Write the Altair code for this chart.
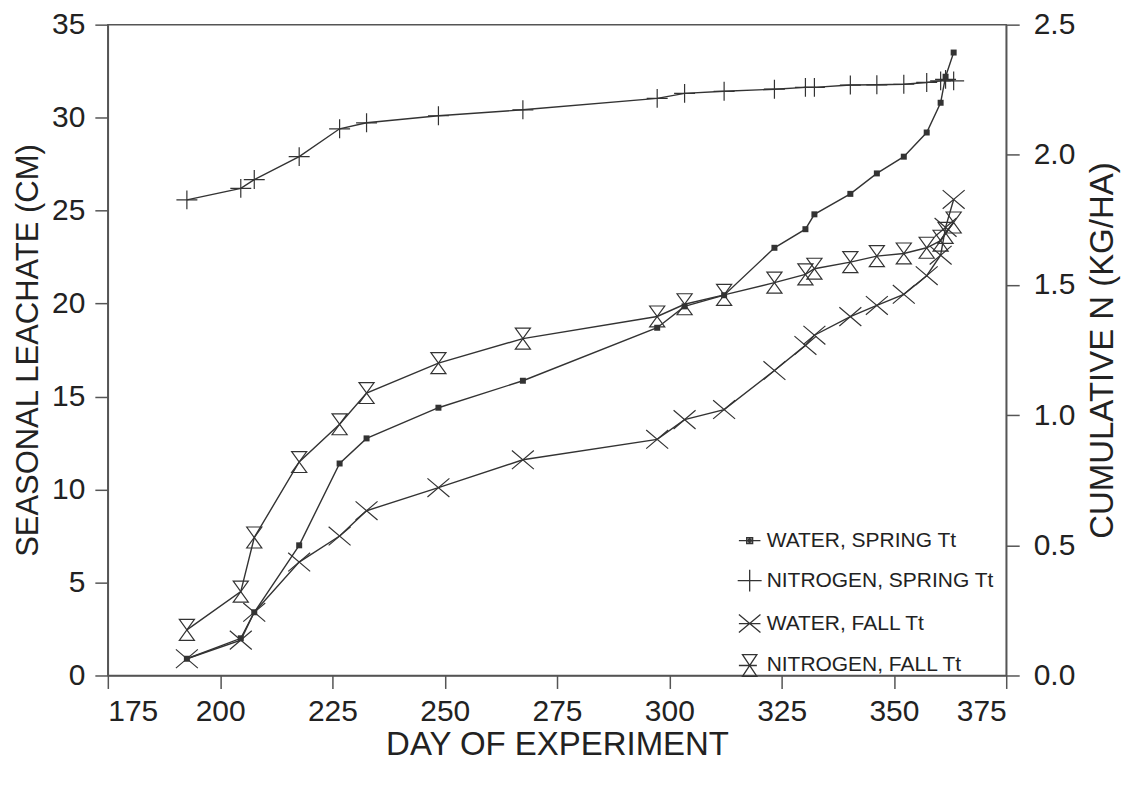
import altair as alt
import pandas as pd

# ---------------- data ----------------
days = [192.6, 204.6, 207.6, 217.6, 226.6, 232.6, 248.6, 267.4, 297.3, 303.4,
        312.2, 323.4, 330.3, 332.3, 340.3, 346.2, 352.2, 357.3, 360.4, 361.5, 363.3]

water_spring = [0.9, 2.0, 3.4, 7.0, 11.4, 12.75, 14.4, 15.85, 18.7, 19.85,
                20.45, 23.0, 24.0, 24.8, 25.9, 27.0, 27.9, 29.2, 30.8, 32.2, 33.5]
water_fall = [0.9, 1.9, 3.4, 6.1, 7.5, 8.86, 10.1, 11.6, 12.7, 13.76,
              14.3, 16.4, 17.75, 18.3, 19.3, 19.9, 20.5, 21.5, 22.6, 24.1, 25.6]
nitrogen_spring = [1.827, 1.871, 1.905, 1.993, 2.10, 2.123, 2.15, 2.173, 2.217, 2.236,
                   2.244, 2.252, 2.259, 2.259, 2.268, 2.269, 2.271, 2.278, 2.284, 2.29, 2.284]
nitrogen_fall = [0.175, 0.322, 0.53, 0.82, 0.965, 1.085, 1.20, 1.294, 1.379, 1.426,
                 1.462, 1.509, 1.541, 1.5625, 1.588, 1.611, 1.621, 1.643, 1.67, 1.70, 1.74]

series_names = ["WATER, SPRING Tt", "NITROGEN, SPRING Tt", "WATER, FALL Tt", "NITROGEN, FALL Tt"]
x_ticks = [175, 200, 225, 250, 275, 300, 325, 350, 375]
left_ticks = [0, 5, 10, 15, 20, 25, 30, 35]
right_ticks = [0.0, 0.5, 1.0, 1.5, 2.0, 2.5]

# ---------------- tables ----------------
n = len(days)
water = pd.DataFrame({
    "day": days * 2,
    "value": water_spring + water_fall,
    "series": [series_names[0]] * n + [series_names[2]] * n,
})
nitro = pd.DataFrame({
    "day": days * 2,
    "value": nitrogen_spring + nitrogen_fall,
    "series": [series_names[1]] * n + [series_names[3]] * n,
})
legend_df = pd.DataFrame({"series": series_names})

FONT = "Liberation Sans"
INK = "#333333"
TXT = "#222222"

PLUS = "M-1,0L1,0M0,-0.9L0,0.9"
XMARK = "M-1,-0.85L1,0.85M-1,0.85L1,-0.85"
HOUR = "M-0.72,-1L0.72,-1L-0.72,1L0.72,1Z"

legend_paths = [
    "M-0.9,0L0.9,0M-0.25,-0.25L0.25,-0.25L0.25,0.25L-0.25,0.25ZM-0.12,-0.12L0.12,-0.12L0.12,0.12L-0.12,0.12ZM0,-0.25L0,0.25",
    "M-1,0L1,0M0,-0.9L0,0.9",
    "M-0.9,-0.75L0.9,0.75M-0.9,0.75L0.9,-0.75M-0.9,0L0.9,0",
    "M-0.6,-0.9L0.6,-0.9L-0.6,0.9L0.6,0.9ZM-0.9,0L0.6,0",
]

x_enc = alt.X(
    "day:Q",
    scale=alt.Scale(domain=[175, 375], nice=False, zero=False),
    axis=alt.Axis(values=x_ticks, title="DAY OF EXPERIMENT", labelPadding=8, titlePadding=2),
)

# ---------------- left axis: water ----------------
wbase = alt.Chart(water).encode(
    x=x_enc,
    y=alt.Y("value:Q", scale=alt.Scale(domain=[0, 35], nice=False),
            axis=alt.Axis(values=left_ticks, title="SEASONAL LEACHATE (CM)",
                          titleFontSize=31, labelPadding=10, titlePadding=7)),
)
w_line = wbase.mark_line(color=INK, strokeWidth=1.4).encode(detail="series:N")
ws_pts = wbase.transform_filter(alt.datum.series == series_names[0]).mark_point(
    shape="square", size=36, filled=True, color=INK, opacity=1)
wf_pts = wbase.transform_filter(alt.datum.series == series_names[2]).mark_point(
    shape=XMARK, size=484, filled=False, color=INK, strokeWidth=1.2, opacity=1)

legend_layer = alt.Chart(legend_df).mark_point(opacity=0, filled=False).encode(
    shape=alt.Shape(
        "series:N",
        scale=alt.Scale(domain=series_names, range=legend_paths),
        legend=alt.Legend(
            title=None, orient="none", legendX=630, legendY=504, padding=0,
            symbolSize=576, symbolOpacity=1, symbolStrokeColor=INK,
            symbolFillColor="transparent", symbolStrokeWidth=1.3,
            labelFont=FONT, labelFontSize=21, labelColor=TXT, labelOffset=4,
            labelLimit=0, rowPadding=16,
        ),
    )
)

left = alt.layer(w_line, ws_pts, wf_pts, legend_layer)

# ---------------- right axis: nitrogen ----------------
nbase = alt.Chart(nitro).encode(
    x=x_enc,
    y=alt.Y("value:Q", scale=alt.Scale(domain=[0, 2.5], nice=False),
            axis=alt.Axis(orient="right", values=right_ticks, format=".1f",
                          title="CUMULATIVE N (KG/HA)", titleAngle=270,
                          titleBaseline="top", labelPadding=14, titlePadding=12)),
)
n_line = nbase.mark_line(color=INK, strokeWidth=1.4).encode(detail="series:N")
ns_pts = nbase.transform_filter(alt.datum.series == series_names[1]).mark_point(
    shape=PLUS, size=441, filled=False, color=INK, strokeWidth=1.2, opacity=1)
nf_pts = nbase.transform_filter(alt.datum.series == series_names[3]).mark_point(
    shape=HOUR, size=441, filled=False, color=INK, strokeWidth=1.2, opacity=1)

right = alt.layer(n_line, ns_pts, nf_pts)

chart = (
    alt.layer(left, right)
    .resolve_scale(y="independent")
    .properties(
        width=900, height=652,
        autosize=alt.AutoSizeParams(type="none"),
        padding={"left": 100, "top": 16, "right": 120, "bottom": 90},
        background="white",
    )
    .configure_view(stroke="#555555", strokeWidth=1.5)
    .configure_axis(
        grid=False, domainColor="#555555", domainWidth=1.5,
        tickColor="#555555", tickWidth=1.5, tickSize=13,
        labelFont=FONT, labelFontSize=30, labelColor=TXT,
        titleFont=FONT, titleFontSize=33, titleFontWeight="normal", titleColor=TXT,
    )
)

chart.save("out.html", embed_options={"renderer": "svg", "actions": False})
